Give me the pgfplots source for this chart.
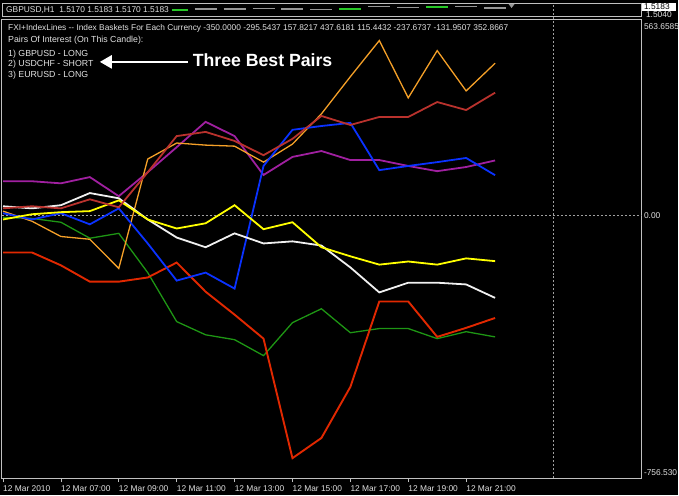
\documentclass[border=0pt]{standalone}
\usepackage{fontspec}
\setmainfont{Liberation Sans}
\usepackage{pgfplots}
\pgfplotsset{compat=1.18}
\usetikzlibrary{arrows.meta}
\definecolor{cwhite}{RGB}{240,240,240}
\definecolor{cyellow}{RGB}{255,255,0}
\definecolor{cblue}{RGB}{10,50,255}
\definecolor{corange}{RGB}{245,160,40}
\definecolor{cbrown}{RGB}{185,50,45}
\definecolor{cpurple}{RGB}{160,32,160}
\definecolor{cgreen}{RGB}{30,150,20}
\definecolor{cred}{RGB}{225,40,0}
\definecolor{bordergray}{RGB}{192,192,192}
\definecolor{gridgray}{RGB}{160,160,160}
\definecolor{txt}{RGB}{225,225,225}
\definecolor{candlegreen}{RGB}{40,200,40}
\definecolor{candlegray}{RGB}{150,150,150}
\newcommand{\sm}{\fontsize{8.4}{9}\selectfont}
\newcommand{\smb}{\fontsize{8.8}{9}\selectfont}
\newcommand{\smt}{\fontsize{8.35}{9}\selectfont}
\begin{document}
\begin{tikzpicture}
\fill[black] (0pt,0pt) rectangle (679pt,496pt);
% main panel
\begin{axis}[
  at={(2pt,17pt)}, anchor=south west,
  scale only axis, width=641pt, height=459.5pt,
  xmin=-0.035, xmax=22.07, ymin=-756.53, ymax=563.6585,
  axis line style={draw=bordergray, line width=1pt},
  xtick={0,2,4,6,8,10,12,14,16},
  xticklabels={12 Mar 2010,12 Mar 07:00,12 Mar 09:00,12 Mar 11:00,12 Mar 13:00,12 Mar 15:00,12 Mar 17:00,12 Mar 19:00,12 Mar 21:00},
  xtick pos=bottom, tick align=outside, major tick length=4pt,
  xtick style={draw=bordergray, line width=0.8pt},
  xticklabel style={anchor=north west, font=\sm, text=txt, inner sep=1pt, xshift=-1pt, yshift=-2pt},
  ytick=\empty,
  clip=true,
]
\draw[gridgray, line width=0.8pt, dash pattern=on 2pt off 2pt] (axis cs:-0.035,0) -- (axis cs:22.07,0);
\addplot[cgreen, line width=1.3pt] coordinates {(0,-6) (1,-9) (2,-20) (3,-66) (4,-52) (5,-165) (6,-306) (7,-344) (8,-358) (9,-404) (10,-309) (11,-269) (12,-338) (13,-326) (14,-326) (15,-355) (16,-335) (17,-350)};
\addplot[cred, line width=1.9pt] coordinates {(0,-107) (1,-107) (2,-144) (3,-191) (4,-191) (5,-179) (6,-136) (7,-220) (8,-286) (9,-355) (10,-699) (11,-641) (12,-494) (13,-248) (14,-248) (15,-350) (16,-324) (17,-295.5437)};
\addplot[cpurple, line width=1.8pt] coordinates {(0,98) (1,98) (2,92) (3,110) (4,55) (5,124) (6,196) (7,269) (8,228) (9,116) (10,168) (11,185) (12,159) (13,159) (14,142) (15,127) (16,139) (17,157.8217)};
\addplot[corange, line width=1.3pt] coordinates {(0,12) (1,-17) (2,-61) (3,-69) (4,-153) (5,162) (6,208) (7,202) (8,199) (9,153) (10,205) (11,292) (12,399) (13,503) (14,338) (15,474) (16,358) (17,437.6181)};
\addplot[cblue, line width=1.8pt] coordinates {(0,6) (1,-12) (2,6) (3,-26) (4,20) (5,-81) (6,-188) (7,-165) (8,-211) (9,142) (10,246) (11,257) (12,266) (13,130) (14,142) (15,153) (16,165) (17,115.4432)};
\addplot[cwhite, line width=1.8pt] coordinates {(0,26) (1,20) (2,29) (3,64) (4,49) (5,-12) (6,-64) (7,-92) (8,-52) (9,-81) (10,-75) (11,-87) (12,-150) (13,-222) (14,-194) (15,-194) (16,-199) (17,-237.6737)};
\addplot[cyellow, line width=1.8pt] coordinates {(0,-12) (1,3) (2,9) (3,12) (4,43) (5,-12) (6,-38) (7,-23) (8,29) (9,-40) (10,-20) (11,-92) (12,-118) (13,-142) (14,-133) (15,-142) (16,-124) (17,-131.9507)};
\addplot[cbrown, line width=1.8pt] coordinates {(0,20) (1,26) (2,20) (3,46) (4,23) (5,124) (6,228) (7,240) (8,214) (9,173) (10,220) (11,286) (12,260) (13,283) (14,283) (15,326) (16,303) (17,352.8667)};
\end{axis}
% price strip
\begin{axis}[
  at={(2pt,480pt)}, anchor=south west,
  scale only axis, width=641pt, height=13pt,
  xmin=-0.035, xmax=22.07, ymin=1.5030, ymax=1.5200,
  axis line style={draw=bordergray, line width=0.8pt},
  xtick=\empty, ytick=\empty, unbounded coords=jump,
]
\addplot[candlegray, line width=1.2pt] coordinates {(6.62,1.5122) (7.38,1.5122) (7,nan) (7.62,1.5122) (8.38,1.5122) (8,nan) (8.62,1.5128) (9.38,1.5128) (9,nan) (9.62,1.5122) (10.38,1.5122) (10,nan) (10.62,1.5115) (11.38,1.5115) (11,nan) (12.62,1.5154) (13.38,1.5154) (13,nan) (13.62,1.5141) (14.38,1.5141) (14,nan) (15.62,1.5154) (16.38,1.5154) (16,nan) (16.62,1.5135) (17.38,1.5135)};
\addplot[candlegreen, line width=2pt] coordinates {(5.62,1.5102) (6.38,1.5102) (6,nan) (11.62,1.5122) (12.38,1.5122) (12,nan) (14.62,1.5148) (15.38,1.5148)};
\end{axis}
% vertical dashed separator
\draw[gridgray, line width=0.8pt, dash pattern=on 2pt off 2pt] (554pt,17pt) -- (554pt,493pt);
% chart shift marker
\fill[candlegray] (509.5pt,492pt) -- (515.5pt,492pt) -- (512.5pt,488pt) -- cycle;
% strip text
\fill[black] (4pt,481pt) rectangle (172pt,492pt);
\node[anchor=base west, inner sep=0pt, text=txt, font=\sm] at (6pt,483.5pt) {GBPUSD,H1\ \ 1.5170 1.5183 1.5170 1.5183};
% right labels
\fill[white] (643.5pt,485pt) rectangle (677pt,493pt);
\node[anchor=base west, inner sep=0pt, text=black, font=\sm] at (645pt,486.5pt) {1.5183};
\node[anchor=base west, inner sep=0pt, text=txt, font=\sm] at (647pt,478pt) {1.5040};
\node[anchor=base west, inner sep=0pt, text=txt, font=\sm] at (645pt,466pt) {563.6585};
\node[anchor=base west, inner sep=0pt, text=txt, font=\sm] at (645pt,277pt) {0.00};
\node[anchor=base west, inner sep=0pt, text=txt, font=\sm] at (645pt,20pt) {-756.530};
% indicator text
\node[anchor=base west, inner sep=0pt, text=txt, font=\smt] at (8pt,465pt) {FXI+IndexLines -{}- Index Baskets For Each Currency -350.0000 -295.5437 157.8217 437.6181 115.4432 -237.6737 -131.9507 352.8667};
\node[anchor=base west, inner sep=0pt, text=txt, font=\smb] at (8pt,453pt) {Pairs Of Interest (On This Candle):};
\node[anchor=base west, inner sep=0pt, text=txt, font=\smb] at (8pt,439.5pt) {1) GBPUSD - LONG};
\node[anchor=base west, inner sep=0pt, text=txt, font=\smb] at (8pt,429pt) {2) USDCHF - SHORT};
\node[anchor=base west, inner sep=0pt, text=txt, font=\smb] at (8pt,418.5pt) {3) EURUSD - LONG};
% annotation
\draw[white, line width=2.5pt, -{Triangle[length=12pt,width=13pt]}] (188pt,434pt) -- (100pt,434pt);
\node[anchor=base west, inner sep=0pt, text=white, font=\fontsize{17.7}{20}\selectfont\bfseries] at (193pt,429pt) {Three Best Pairs};
\end{tikzpicture}
\end{document}
